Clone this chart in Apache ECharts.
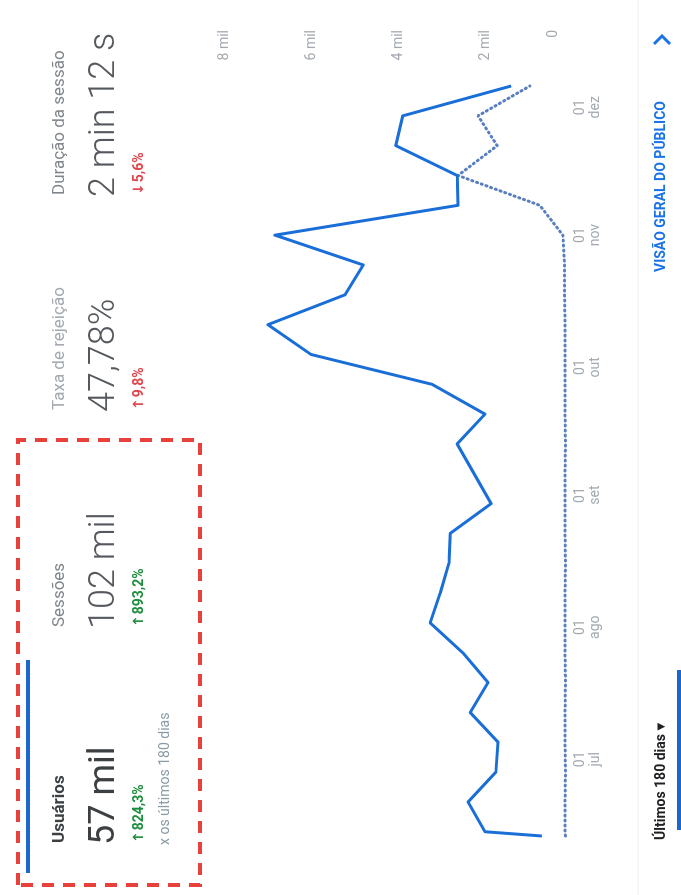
<!DOCTYPE html>
<html>
<head>
<meta charset="utf-8">
<title>Usuários - últimos 180 dias</title>
<script src="https://cdn.jsdelivr.net/npm/echarts@6/dist/echarts.min.js"></script>
<style>
  html, body { margin: 0; padding: 0; width: 681px; height: 895px; overflow: hidden; background: #fff; }
  /* o print está girado 90° no sentido anti-horário: desenha-se deitado e gira-se o bloco */
  #rotator {
    position: absolute; left: 0; top: 0;
    width: 895px; height: 681px;
    transform-origin: 0 0;
    transform: translateY(895px) rotate(-90deg);
  }
  #chart { width: 895px; height: 681px; }
</style>
</head>
<body>
<div id="rotator"><div id="chart"></div></div>
<script>
// datas dos pontos (semanas) e valores
const pointDates = [
  '2020-06-13', '2020-06-14', '2020-06-21', '2020-06-28', '2020-07-05', '2020-07-12',
  '2020-07-19', '2020-07-26', '2020-08-02', '2020-08-09', '2020-08-16', '2020-08-23',
  '2020-08-30', '2020-09-06', '2020-09-13', '2020-09-20', '2020-09-27', '2020-10-04',
  '2020-10-11', '2020-10-18', '2020-10-25', '2020-11-01', '2020-11-08', '2020-11-15',
  '2020-11-22', '2020-11-29', '2020-12-06'
]
const usersCurrent = [
  690, 2000, 2390, 1750, 1700, 2340, 1930, 2510, 3260, 3030, 2830, 2800, 1860, 2250,
  2640, 2000, 3220, 6000, 6990, 5220, 4800, 6830, 2620, 2640, 4050, 3890, 1400
]
const usersPrevious = [
  150, 160, 160, 150, 160, 160, 150, 160, 160, 160, 150, 160, 160, 160,
  150, 160, 160, 160, 160, 170, 170, 210, 740, 2620, 1720, 2160, 970
]
const monthNames = ['jan', 'fev', 'mar', 'abr', 'mai', 'jun', 'jul', 'ago', 'set', 'out', 'nov', 'dez']
const valueTicks = [0, 2000, 4000, 6000, 8000]

// cartões de métricas
const metricNames = ['Usuários', 'Sessões', 'Taxa de rejeição', 'Duração da sessão']
const metricValues = ['57 mil', '102 mil', '47,78%', '2 min 12 s']
const metricArrows = ['↑', '↑', '↑', '↓']
const metricChanges = ['824,3%', '893,2%', '9,8%', '5,6%']
const changeColors = ['#1e8e3e', '#1e8e3e', '#e0454b', '#e0454b']

const FONT = 'Roboto, "Noto Sans", sans-serif'

// categorias diárias entre o primeiro e o último ponto
const categories = []
const d0 = new Date(pointDates[0] + 'T00:00:00Z')
const d1 = new Date(pointDates[pointDates.length - 1] + 'T00:00:00Z')
for (let d = new Date(d0); d <= d1; d.setUTCDate(d.getUTCDate() + 1)) {
  const dd = String(d.getUTCDate()).padStart(2, '0')
  categories.push(dd + ' ' + monthNames[d.getUTCMonth()])
}
const dateIndex = (s) => Math.round((new Date(s + 'T00:00:00Z') - d0) / 86400000)

const chart = echarts.init(document.getElementById('chart'))

const colX = [52, 268, 485, 700]
const graphics = []
metricNames.forEach((name, i) => {
  graphics.push({
    type: 'text',
    style: {
      text: name, x: colX[i], y: 60, verticalAlign: 'middle',
      fontFamily: FONT, fontSize: 17,
      fontWeight: i === 0 ? 'bold' : 'normal',
      fill: i === 0 ? '#3c4043' : (i === 2 ? '#a3a9b0' : '#80868b')
    }
  })
  graphics.push({
    type: 'text',
    style: {
      text: metricValues[i], x: colX[i] - 2, y: 105, verticalAlign: 'middle',
      fontFamily: FONT, fontSize: 36,
      fontWeight: i === 0 ? 'normal' : 300,
      fill: i === 0 ? '#3c4043' : '#55595e'
    }
  })
  graphics.push({
    type: 'text',
    style: {
      text: '{a|' + metricArrows[i] + '}' + metricChanges[i],
      x: colX[i], y: 139, verticalAlign: 'middle',
      fontFamily: FONT, fontSize: 14, fontWeight: 'bold', fill: changeColors[i],
      rich: {
        a: { fontFamily: '"DejaVu Sans"', fontSize: 14, fontWeight: 'bold', fill: changeColors[i], padding: [0, 1, 0, 0] }
      }
    }
  })
})
graphics.push(
  {
    type: 'text',
    style: {
      text: 'x os últimos 180 dias', x: 50, y: 165, verticalAlign: 'middle',
      fontFamily: FONT, fontSize: 14, fill: '#8a9aa3'
    }
  },
  // barra azul da métrica selecionada
  { type: 'rect', shape: { x: 22, y: 26, width: 213, height: 4 }, style: { fill: '#1a68c9' } },
  // destaque tracejado vermelho
  {
    type: 'rect',
    shape: { x: 10, y: 18, width: 445, height: 182 },
    style: { fill: null, stroke: '#e8403a', lineWidth: 4, lineDash: [12, 9] }
  },
  // rodapé
  { type: 'line', shape: { x1: 0, y1: 638, x2: 895, y2: 638 }, style: { stroke: '#eeeeee', lineWidth: 1 } },
  {
    type: 'text',
    style: {
      text: 'Últimos 180 dias {t|▼}', x: 55, y: 661, verticalAlign: 'middle',
      fontFamily: FONT, fontSize: 14, fontWeight: 'bold', fill: '#202124',
      rich: { t: { fontFamily: '"DejaVu Sans"', fontSize: 10, fill: '#202124' } }
    }
  },
  {
    type: 'text',
    style: {
      text: 'VISÃO GERAL DO PÚBLICO', x: 623, y: 661, verticalAlign: 'middle',
      fontFamily: FONT, fontSize: 14, fontWeight: 'bold', fill: '#1a73e8'
    }
  },
  {
    type: 'polyline',
    shape: { points: [[851, 654], [859, 662], [851, 670]] },
    style: { stroke: '#1a73e8', lineWidth: 3, fill: null }
  },
  { type: 'rect', shape: { x: 65, y: 677, width: 160, height: 4 }, style: { fill: '#1a68c9' } }
)

const option = {
  animation: false,
  grid: { left: 59, right: 86, top: 224, bottom: 109 },
  xAxis: {
    type: 'category',
    data: categories,
    boundaryGap: false,
    axisLine: { show: false },
    axisTick: { show: false },
    splitLine: { show: false },
    axisLabel: {
      interval: (idx, val) => val.startsWith('01 '),
      formatter: (val) => val.replace(' ', '\n'),
      color: '#a3a9b0',
      fontFamily: FONT,
      fontSize: 14,
      lineHeight: 15,
      margin: 1
    }
  },
  yAxis: {
    type: 'value',
    position: 'right',
    min: valueTicks[0],
    max: valueTicks[valueTicks.length - 1],
    interval: 2000,
    axisLine: { show: false },
    axisTick: { show: false },
    splitLine: { show: false },
    axisLabel: {
      // o "0" fica um pouco acima da linha de base, como no original
      formatter: (v) => (v === 0 ? '{z|0}' : v / 1000 + ' mil'),
      align: 'right',
      margin: 56,
      color: '#a3a9b0',
      fontFamily: FONT,
      fontSize: 14,
      rich: { z: { fontFamily: FONT, fontSize: 14, color: '#a3a9b0', padding: [0, 0, 38, 0] } }
    }
  },
  series: [
    {
      name: 'Período anterior',
      type: 'line',
      data: pointDates.map((s, i) => [dateIndex(s), usersPrevious[i]]),
      showSymbol: false,
      lineStyle: { color: '#5a7fc0', width: 3, type: [1, 4], cap: 'round' },
      z: 2
    },
    {
      name: 'Usuários',
      type: 'line',
      data: pointDates.map((s, i) => [dateIndex(s), usersCurrent[i]]),
      showSymbol: false,
      lineStyle: { color: '#1a6ed8', width: 3, join: 'round' },
      z: 3
    }
  ],
  graphic: graphics
}

chart.setOption(option)
</script>
</body>
</html>
